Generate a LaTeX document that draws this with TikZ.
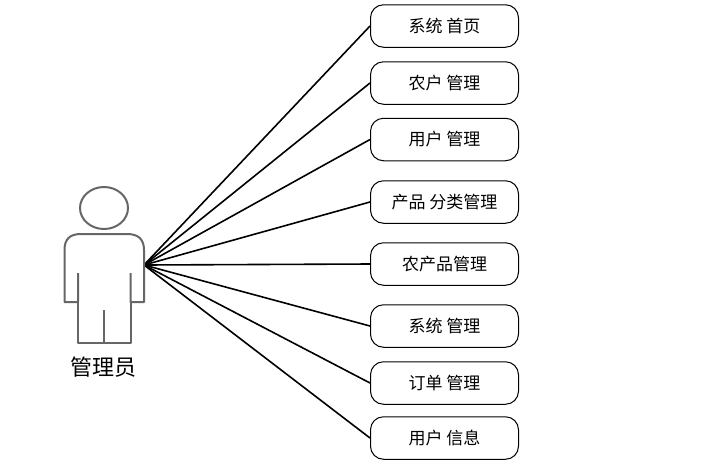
\documentclass[tikz,border=0pt]{standalone}
\usepackage{fontspec}
\setmainfont{Noto Sans CJK SC}
\tikzset{
  fn/.style={draw=black,line width=1pt,rounded corners=13pt,minimum width=148pt,minimum height=42.5pt,inner sep=0pt,font=\fontsize{17}{19}\selectfont,fill=white},
  link/.style={draw=black,line width=1.6pt},
  figure/.style={draw=black!60,line width=2pt,line join=round}
}
\begin{document}
\begin{tikzpicture}[x=1pt,y=-1pt]
\useasboundingbox (0,0) rectangle (712,475);
\fill[white] (0,0) rectangle (712,475);
\coordinate (hub) at (144,265);
\foreach \nm/\yy/\tx in {a/26/系统 首页,b/83/农户 管理,c/139.5/用户 管理,d/202/产品 分类管理,e/264/农产品管理,f/326/系统 管理,g/383/订单 管理,h/438/用户 信息}{
  \node[fn] (\nm) at (444.5,\yy) {\tx};
  \draw[link] (hub) -- (\nm.west);
}
\draw[figure] (104,208) ellipse [x radius=24,y radius=21];
\draw[figure] (78,273) -- (78,302) -- (64.5,302) -- (64.5,250) .. controls (64.5,239) and (70,234) .. (81,234) -- (127,234) .. controls (138,234) and (144,239) .. (144,250) -- (144,302) -- (130.5,302) -- (130.5,273);
\draw[figure] (78,302) -- (78,343) -- (130.5,343) -- (130.5,302);
\draw[figure] (104,310) -- (104,343);
\node[inner sep=0pt,font=\fontsize{22}{24}\selectfont] (actor) at (103,367) {管理员};
\end{tikzpicture}
\end{document}
